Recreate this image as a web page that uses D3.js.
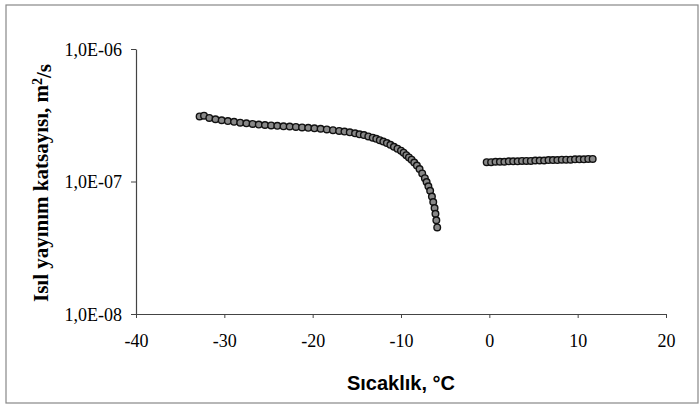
<!DOCTYPE html>
<meta charset="utf-8">
<script src="https://d3js.org/d3.v7.min.js"></script>
<style>
  body { margin: 0; background: #fff; }
  .tick text { font-family: 'Liberation Serif', serif; font-size: 18px; fill: #000; }
</style>
<body>
<div id="chart"></div>
<script>

// data
var coldTemp = [-32.8, -32.3, -31.7, -31.0, -30.3, -29.6, -28.9, -28.2, -27.5, -26.8,
  -26.1, -25.4, -24.7, -24.0, -23.3, -22.6, -21.9, -21.2, -20.5, -19.8,
  -19.1, -18.4, -17.7, -17.0, -16.4, -15.8, -15.2, -14.7, -14.2, -13.7,
  -13.2, -12.8, -12.4, -12.0, -11.6, -11.2, -10.8, -10.4, -10.0, -9.7,
  -9.4, -9.1, -8.8, -8.5, -8.2, -7.9, -7.6, -7.3, -7.1, -6.9,
  -6.7, -6.5, -6.35, -6.2, -6.1, -6.0, -5.9];
var coldAlpha = [3.10e-7, 3.14e-7, 3.02e-7, 2.95e-7, 2.90e-7, 2.86e-7, 2.82e-7, 2.78e-7, 2.75e-7, 2.72e-7,
  2.69e-7, 2.67e-7, 2.65e-7, 2.63e-7, 2.61e-7, 2.60e-7, 2.58e-7, 2.56e-7, 2.54e-7, 2.52e-7,
  2.50e-7, 2.47e-7, 2.44e-7, 2.41e-7, 2.38e-7, 2.35e-7, 2.31e-7, 2.27e-7, 2.24e-7, 2.19e-7,
  2.14e-7, 2.10e-7, 2.05e-7, 2.00e-7, 1.95e-7, 1.89e-7, 1.83e-7, 1.77e-7, 1.71e-7, 1.65e-7,
  1.58e-7, 1.52e-7, 1.46e-7, 1.39e-7, 1.32e-7, 1.24e-7, 1.15e-7, 1.06e-7, 0.99e-7, 0.92e-7,
  0.85e-7, 0.77e-7, 0.70e-7, 0.63e-7, 0.57e-7, 0.51e-7, 0.45e-7];

var warmTemp = [-0.3, 0.2, 0.7, 1.2, 1.7, 2.2, 2.7, 3.2, 3.7, 4.2, 4.7, 5.2, 5.7,
  6.2, 6.7, 7.2, 7.7, 8.2, 8.7, 9.2, 9.7, 10.2, 10.7, 11.2, 11.7];
var warmAlpha = [1.40e-7, 1.40e-7, 1.41e-7, 1.41e-7, 1.41e-7, 1.42e-7, 1.42e-7, 1.42e-7, 1.43e-7,
  1.43e-7, 1.43e-7, 1.44e-7, 1.44e-7, 1.44e-7, 1.45e-7, 1.45e-7, 1.45e-7, 1.46e-7,
  1.46e-7, 1.46e-7, 1.47e-7, 1.47e-7, 1.47e-7, 1.48e-7, 1.48e-7];

var xTicks = [-40, -30, -20, -10, 0, 10, 20];
var yTicks = [1e-8, 1e-7, 1e-6];
var yTickLabels = ["1,0E-08", "1,0E-07", "1,0E-06"];

var W = 699, H = 405;
var margin = {top: 49, right: 33, bottom: 91, left: 136},
    width = W - margin.left - margin.right,
    height = H - margin.top - margin.bottom;

var svg = d3.select("#chart").append("svg")
    .attr("width", W)
    .attr("height", H);

// outer frame
svg.append("rect")
  .attr("x", 6).attr("y", 5)
  .attr("width", 692).attr("height", 398)
  .attr("fill", "none")
  .attr("stroke", "#888")
  .attr("stroke-width", 1.2);

var g = svg.append("g")
  .attr("transform", "translate(" + margin.left + "," + margin.top + ")");

var x = d3.scaleLinear().domain([-40, 20]).range([0, width]);
var y = d3.scaleLog().domain([1e-8, 1e-6]).range([height, 0]);

// X axis
var xAxis = g.append("g")
  .attr("transform", "translate(0," + height + ")")
  .call(d3.axisBottom(x).tickValues(xTicks).tickSize(4).tickSizeOuter(0).tickPadding(16)
    .tickFormat(function(d) { return d; }));

// Y axis
var yAxis = g.append("g")
  .call(d3.axisLeft(y).tickValues(yTicks).tickSize(5).tickSizeOuter(0).tickPadding(9)
    .tickFormat(function(d, i) { return yTickLabels[i]; }));

g.selectAll(".domain").attr("stroke", "#444").attr("stroke-width", 1.2);
g.selectAll(".tick line").attr("stroke", "#444");
yAxis.selectAll(".tick text").attr("dy", "0.35em");

// markers
function drawSeries(temps, vals) {
  var pts = temps.map(function(t, i) { return {t: t, v: vals[i]}; });
  g.append("g").selectAll("circle")
    .data(pts)
    .enter()
    .append("circle")
      .attr("cx", function(d) { return x(d.t); })
      .attr("cy", function(d) { return y(d.v); })
      .attr("r", 3.3)
      .attr("fill", "#888")
      .attr("stroke", "#111")
      .attr("stroke-width", 1.4);
}
drawSeries(coldTemp, coldAlpha);
drawSeries(warmTemp, warmAlpha);

// axis titles
svg.append("text")
  .attr("x", 401)
  .attr("y", 390)
  .attr("text-anchor", "middle")
  .style("font-family", "'Liberation Sans', Arial, sans-serif")
  .style("font-weight", "bold")
  .style("font-size", "20px")
  .text("Sıcaklık, °C");

var yt = svg.append("text")
  .attr("transform", "translate(48,183) rotate(-90)")
  .attr("text-anchor", "middle")
  .style("font-family", "'Liberation Serif', 'Times New Roman', serif")
  .style("font-weight", "bold")
  .style("font-size", "21px");
yt.append("tspan").text("Isıl yayınım katsayısı, m");
yt.append("tspan").attr("dy", "-0.45em").style("font-size", "14px").text("2");
yt.append("tspan").attr("dy", "0.45em").text("/s");

</script>
</body>
